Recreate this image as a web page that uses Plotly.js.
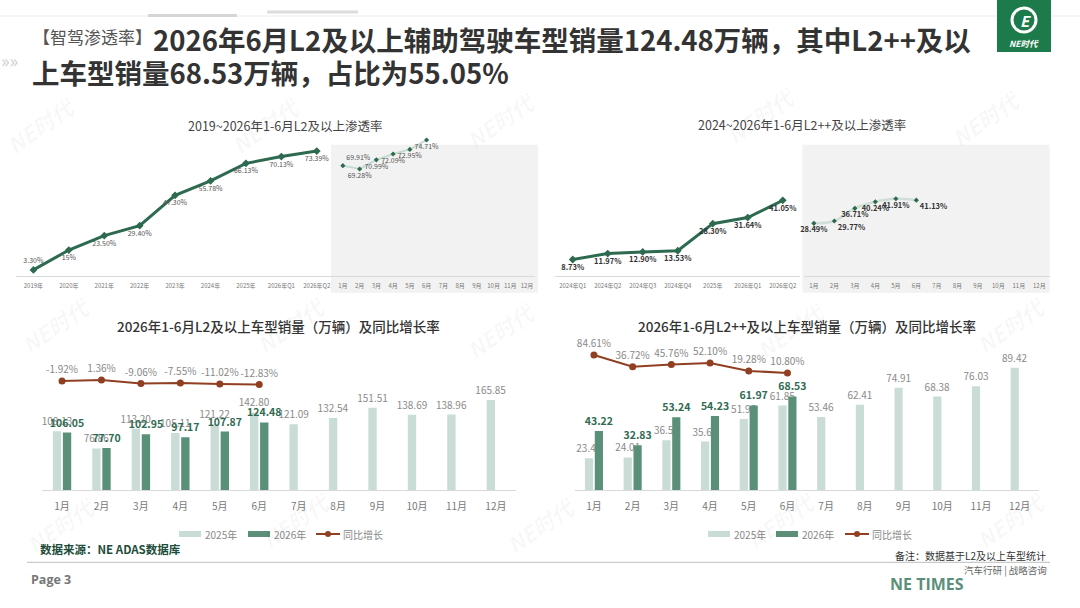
<!DOCTYPE html>
<html>
<head>
<meta charset="utf-8">
<script src="https://cdn.plot.ly/plotly-3.0.1.min.js"></script>
<style>
  html, body { margin: 0; padding: 0; background: #fff; }
  #chart { width: 1080px; height: 608px; }
</style>
</head>
<body>
<div id="chart"></div>
<script>
// ---- data ----
const months = ['1月', '2月', '3月', '4月', '5月', '6月', '7月', '8月', '9月', '10月', '11月', '12月'];

// top left: L2+ penetration
const l2YearCats = ['2019年', '2020年', '2021年', '2022年', '2023年', '2024年', '2025年', '2026年Q1', '2026年Q2'];
const l2YearRate = [3.30, 15, 23.50, 29.40, 47.30, 55.78, 66.13, 70.13, 73.39];
const l2MonthRate = [69.91, 69.28, 70.99, 72.09, 72.95, 74.71];

// top right: L2++ penetration
const l2ppQuarterCats = ['2024年Q1', '2024年Q2', '2024年Q3', '2024年Q4', '2025年', '2026年Q1', '2026年Q2'];
const l2ppQuarterRate = [8.73, 11.97, 12.90, 13.53, 28.30, 31.64, 41.05];
const l2ppMonthRate = [28.49, 29.77, 36.71, 40.24, 41.91, 41.13];

// bottom left: L2+ sales (万辆) and yoy
const l2Sales2025 = [108.13, 76.86, 113.20, 105.11, 121.22, 142.80, 121.09, 132.54, 151.51, 138.69, 138.96, 165.85];
const l2Sales2026 = [106.05, 77.70, 102.95, 97.17, 107.87, 124.48];
const l2Yoy = [-1.92, 1.36, -9.06, -7.55, -11.02, -12.83];

// bottom right: L2++ sales (万辆) and yoy
const l2ppSales2025 = [23.42, 24.01, 36.53, 35.62, 51.96, 61.85, 53.46, 62.41, 74.91, 68.38, 76.03, 89.42];
const l2ppSales2026 = [43.22, 32.83, 53.24, 54.23, 61.97, 68.53];
const l2ppYoy = [84.61, 36.72, 45.76, 52.10, 19.28, 10.80];

// ---- helpers ----
const W = 1080, H = 608;
const px = x => x / W;
const py = y => 1 - y / H;
const FONT = '"Noto Sans CJK SC", "Noto Sans", sans-serif';

const pct = v => (Number.isInteger(v) ? v : v.toFixed(2)) + '%';

const DARK = '#2d6a4f';
const LIGHT_LINE = '#c3dbd1';
const BAR25 = '#c9dcd5';
const BAR26 = '#5a9078';
const YOY = '#913f22';

function ann(text, x, y, size, color, extra) {
    return Object.assign({
        text: text, x: px(x), y: py(y), xref: 'paper', yref: 'paper',
        showarrow: false, xanchor: 'center', yanchor: 'middle',
        font: { family: FONT, size: size, color: color }
    }, extra || {});
}

// ---- traces ----
const lineTrace = (x, y, xa, ya, opts) => Object.assign({
    x: x, y: y, xaxis: xa, yaxis: ya, type: 'scatter', mode: 'lines+markers+text',
    text: y.map(pct), cliponaxis: false, hoverinfo: 'skip', showlegend: false
}, opts);

const traces = [
    lineTrace(l2YearCats, l2YearRate, 'x', 'y', {
        line: { color: DARK, width: 3 },
        marker: { symbol: 'diamond', size: 6, color: DARK },
        textposition: ['top center', 'bottom center', 'bottom center', 'bottom center', 'bottom center',
            'bottom center', 'bottom center', 'bottom center', 'bottom center'],
        textfont: { family: FONT, size: 7, color: '#555' }
    }),
    lineTrace(months.slice(0, 6), l2MonthRate, 'x2', 'y2', {
        line: { color: LIGHT_LINE, width: 2 },
        marker: { symbol: 'diamond', size: 4, color: DARK },
        textposition: ['top right', 'bottom center', 'bottom center', 'bottom center', 'bottom center', 'bottom center'],
        textfont: { family: FONT, size: 7, color: '#555' }
    }),
    lineTrace(l2ppQuarterCats, l2ppQuarterRate, 'x3', 'y3', {
        line: { color: DARK, width: 3 },
        marker: { symbol: 'diamond', size: 6, color: DARK },
        textposition: 'bottom center',
        textfont: { family: FONT, size: 7.5, color: '#333', weight: 'bold' }
    }),
    lineTrace(months.slice(0, 6), l2ppMonthRate, 'x4', 'y4', {
        line: { color: '#cfdfd8', width: 2.5, shape: 'spline' },
        marker: { symbol: 'diamond', size: 4, color: DARK },
        textposition: ['bottom center', 'bottom right', 'bottom center', 'bottom center', 'bottom center', 'bottom right'],
        textfont: { family: FONT, size: 7.5, color: '#333', weight: 'bold' }
    })
];

function salesTraces(s25, s26, yoy, xa, ya, ya2) {
    return [
        {
            x: months, y: s25, xaxis: xa, yaxis: ya, type: 'bar', name: '2025年',
            marker: { color: BAR25 }, text: s25.map(v => v.toFixed(2)),
            textposition: 'outside', constraintext: 'none', cliponaxis: false,
            textfont: { family: FONT, size: 10, color: '#8a8a8a' }, hoverinfo: 'skip', showlegend: false
        },
        {
            x: months.slice(0, 6), y: s26, xaxis: xa, yaxis: ya, type: 'bar', name: '2026年',
            marker: { color: BAR26 }, text: s26.map(v => '<b>' + v.toFixed(2) + '</b>'),
            textposition: 'outside', constraintext: 'none', cliponaxis: false,
            textfont: { family: FONT, size: 10.5, color: '#2f6b52' }, hoverinfo: 'skip', showlegend: false
        },
        {
            x: months.slice(0, 6), y: yoy, xaxis: xa, yaxis: ya2, type: 'scatter', mode: 'lines+markers+text',
            name: '同比增长', line: { color: YOY, width: 2 }, marker: { color: YOY, size: 7 },
            text: yoy.map(pct), textposition: 'top center', cliponaxis: false,
            textfont: { family: FONT, size: 10, color: '#888' }, hoverinfo: 'skip', showlegend: false
        }
    ];
}
traces.push(...salesTraces(l2Sales2025, l2Sales2026, l2Yoy, 'x5', 'y5', 'y6'));
traces.push(...salesTraces(l2ppSales2025, l2ppSales2026, l2ppYoy, 'x7', 'y7', 'y8'));

// ---- axes ----
const topY = [py(275.5), py(140)];
const botY = [py(490.3), py(340)];
const hidden = { visible: false, showgrid: false, zeroline: false, fixedrange: true };
const catAxis = (domain, anchor, cats, size, color, standoff, line) => ({
    domain: [px(domain[0]), px(domain[1])], anchor: anchor, type: 'category',
    categoryorder: 'array', categoryarray: cats, range: [-0.5, cats.length - 0.5],
    showgrid: false, zeroline: false, ticks: '', showline: line, linecolor: '#d9d9d9', linewidth: 1,
    tickfont: { family: FONT, size: size, color: color }, ticklabelstandoff: standoff, fixedrange: true
});

const layout = {
    width: W, height: H,
    margin: { l: 0, r: 0, t: 0, b: 0 },
    paper_bgcolor: '#fff', plot_bgcolor: 'rgba(0,0,0,0)',
    font: { family: FONT },
    showlegend: false,
    barmode: 'group', bargap: 0.49, bargroupgap: 0.17,
    xaxis: catAxis([15.7, 334.5], 'y', l2YearCats, 6, '#777', 4, true),
    yaxis: Object.assign({ domain: topY, anchor: 'x', range: [0, 79.9] }, hidden),
    xaxis2: catAxis([334.5, 535.4], 'y2', months, 6, '#777', 4, true),
    yaxis2: Object.assign({ domain: topY, anchor: 'x2', range: [49.34, 74.71] }, hidden),
    xaxis3: catAxis([555.2, 800.3], 'y3', l2ppQuarterCats, 6, '#777', 4, true),
    yaxis3: Object.assign({ domain: topY, anchor: 'x3', range: [0, 74.0] }, hidden),
    xaxis4: catAxis([803.6, 1049.6], 'y4', months, 6, '#777', 4, true),
    yaxis4: Object.assign({ domain: topY, anchor: 'x4', range: [0, 74.0] }, hidden),
    xaxis5: catAxis([42.3, 515.6], 'y5', months, 10, '#777', 7, true),
    yaxis5: Object.assign({ domain: botY, anchor: 'x5', range: [0, 275.8] }, hidden),
    yaxis6: Object.assign({ overlaying: 'y5', anchor: 'x5', range: [-346.4, 127.8] }, hidden),
    xaxis7: catAxis([574.6, 1039], 'y7', months, 10, '#777', 7, true),
    yaxis7: Object.assign({ domain: botY, anchor: 'x7', range: [0, 109.7] }, hidden),
    yaxis8: Object.assign({ overlaying: 'y7', anchor: 'x7', range: [-473, 146.8] }, hidden),
    shapes: [],
    annotations: []
};

const S = layout.shapes, A = layout.annotations;
const rect = (x0, y0, x1, y1, color, layer) => ({
    type: 'rect', xref: 'paper', yref: 'paper', x0: px(x0), x1: px(x1), y0: py(y1), y1: py(y0),
    fillcolor: color, line: { width: 0 }, layer: layer || 'below'
});
const hline = (x0, x1, y, color, width) => ({
    type: 'line', xref: 'paper', yref: 'paper', x0: px(x0), x1: px(x1), y0: py(y), y1: py(y),
    line: { color: color, width: width }, layer: 'below'
});

// header decoration
S.push(hline(0, 1080, 16, '#ececec', 1));
S.push(hline(148, 237, 15.5, '#d6d6d6', 3));
S.push(hline(267, 358, 12, '#dcdcdc', 3));
A.push(ann('»»', 9, 60, 18, '#d0d0d0'));

// gray background for monthly sections
S.push(rect(331, 144.8, 538, 292.8, '#f2f2f2'));
S.push(rect(802.4, 144.8, 1049.6, 292.8, '#f2f2f2'));

// titles
A.push(ann('【智驾渗透率】', 31, 37, 17, '#555', { xanchor: 'left' }));
A.push(ann('2026年6月L2及以上辅助驾驶车型销量124.48万辆，其中L2++及以', 151, 39, 27.5, '#333',
    { xanchor: 'left', font: { family: FONT, size: 27.5, color: '#333', weight: 'bold' } }));
A.push(ann('上车型销量68.53万辆，占比为55.05%', 30, 72, 27.5, '#333',
    { xanchor: 'left', font: { family: FONT, size: 27.5, color: '#333', weight: 'bold' } }));

A.push(ann('2019~2026年1-6月L2及以上渗透率', 285, 125.5, 12.5, '#444'));
A.push(ann('2024~2026年1-6月L2++及以上渗透率', 802, 125, 12.5, '#444'));
A.push(ann('2026年1-6月L2及以上车型销量（万辆）及同比增长率', 278, 326, 13.5, '#333',
    { font: { family: FONT, size: 13.5, color: '#333', weight: 500 } }));
A.push(ann('2026年1-6月L2++及以上车型销量（万辆）及同比增长率', 807, 326, 13.5, '#333',
    { font: { family: FONT, size: 13.5, color: '#333', weight: 500 } }));

// legends for the two bar charts
function legendAt(x25, x26, xYoy) {
    S.push(rect(x25, 531, x25 + 22, 537, BAR25, 'above'));
    A.push(ann('2025年', x25 + 24, 534, 10, '#888', { xanchor: 'left' }));
    S.push(rect(x26, 531, x26 + 22, 537, BAR26, 'above'));
    A.push(ann('2026年', x26 + 24, 534, 10, '#888', { xanchor: 'left' }));
    S.push({ type: 'line', xref: 'paper', yref: 'paper', x0: px(xYoy), x1: px(xYoy + 24), y0: py(534), y1: py(534),
        line: { color: YOY, width: 2 } });
    S.push({ type: 'circle', xref: 'paper', yref: 'paper', x0: px(xYoy + 9), x1: px(xYoy + 15), y0: py(537), y1: py(531),
        fillcolor: YOY, line: { width: 0 } });
    A.push(ann('同比增长', xYoy + 25, 534, 10, '#888', { xanchor: 'left' }));
}
legendAt(179, 248, 316);
legendAt(708, 776, 845);

// footer
A.push(ann('数据来源：NE ADAS数据库', 38, 549, 11.5, '#1e4d3a',
    { xanchor: 'left', font: { family: FONT, size: 11.5, color: '#1e4d3a', weight: 'bold' } }));
A.push(ann('备注：数据基于L2及以上车型统计', 1048, 555, 10, '#333', { xanchor: 'right' }));
S.push(hline(27, 1050, 562.3, '#bdbdbd', 1));
A.push(ann('Page 3', 29, 579.5, 12.5, '#777',
    { xanchor: 'left', font: { family: '"Open Sans", sans-serif', size: 12.5, color: '#777', weight: 'bold' } }));
A.push(ann('NE TIMES', 888, 584, 16, '#5b8f7a',
    { xanchor: 'left', font: { family: '"Open Sans", sans-serif', size: 16, color: '#5b8f7a', weight: 'bold' } }));
A.push(ann('汽车行研 | 战略咨询', 1049, 570, 9.5, '#666', { xanchor: 'right' }));

// logo box
S.push(rect(997, 0, 1051, 52, '#1d7a4b', 'above'));
S.push({ type: 'circle', xref: 'paper', yref: 'paper', x0: px(1012), x1: px(1036), y0: py(32), y1: py(8),
    line: { color: '#fff', width: 3 }, layer: 'above' });
A.push(ann('<b><i>E</i></b>', 1025, 20, 15, '#fff'));
A.push(ann('<b><i>NE时代</i></b>', 1024, 43, 8.5, '#fff'));

// faint watermarks
[[40, 125], [265, 125], [500, 120], [760, 115], [985, 118], [55, 325], [290, 325], [500, 330], [790, 330],
 [1010, 325], [60, 525], [295, 520], [540, 525], [780, 520], [1010, 520]].forEach(p => {
    A.push(ann('<b><i>NE时代</i></b>', p[0], p[1], 22, 'rgba(0,0,0,0.035)', { textangle: -35 }));
});

Plotly.newPlot('chart', traces, layout, { staticPlot: true, displayModeBar: false });
</script>
</body>
</html>
